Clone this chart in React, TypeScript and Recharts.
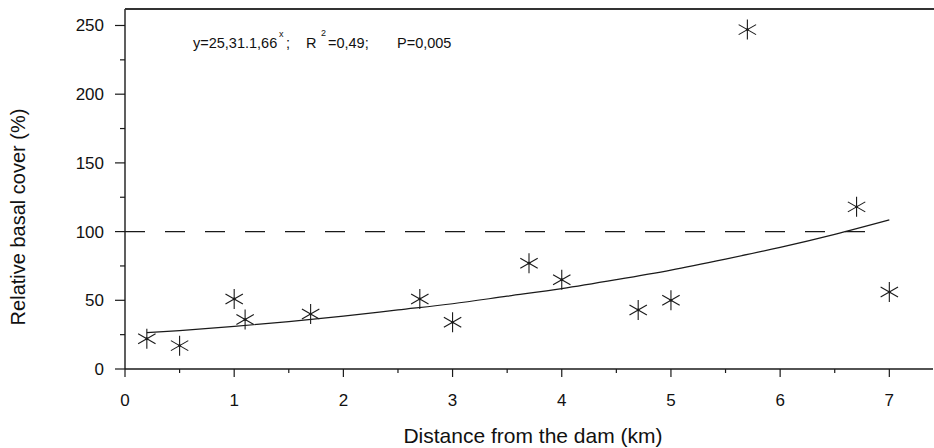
import React from "react";
import {
  ComposedChart,
  Scatter,
  Line,
  XAxis,
  YAxis,
  ReferenceLine,
  Customized,
} from "recharts";

// Observed points (distance km, relative basal cover %)
const distances = [0.2, 0.5, 1.0, 1.1, 1.7, 2.7, 3.0, 3.7, 4.0, 4.7, 5.0, 5.7, 6.7, 7.0];
const coverValues = [22, 17, 51, 36, 40, 51, 34, 77, 65, 43, 50, 247, 118, 56];

// Fitted curve
const curveX = [0.2, 0.5, 1, 1.5, 2, 2.5, 3, 3.5, 4, 4.5, 5, 5.5, 6, 6.5, 7];
const curveY = [26.5, 28, 31, 34.5, 38.5, 43, 47.5, 53, 58.5, 65, 72, 80, 88.5, 98, 108.5];

// Reference (control) level
const referenceLevel = 100;
const referenceEnd = 6.9;

const xTicks = [0, 0.5, 1, 1.5, 2, 2.5, 3, 3.5, 4, 4.5, 5, 5.5, 6, 6.5, 7];
const yTicks = [0, 25, 50, 75, 100, 125, 150, 175, 200, 225, 250];
const xMax = 7.4;
const yMax = 262;

const pointData = distances.map((x, i) => ({ x, y: coverValues[i] }));
const curveData = curveX.map((x, i) => ({ x, y: curveY[i] }));

const FONT = "'Liberation Sans', Arial, Helvetica, sans-serif";
const INK = "#1a1a1a";

const PLOT_LEFT = 125;
const PLOT_TOP = 9;
const CHART_W = 934;

const Star = (props: any) => {
  const { cx, cy } = props;
  if (cx == null || cy == null) return null;
  const r = 10;
  const dx = 8.7;
  const dy = 5;
  return (
    <g stroke={INK} strokeWidth={1.1} fill="none">
      <line x1={cx} y1={cy - r} x2={cx} y2={cy + r} />
      <line x1={cx - dx} y1={cy - dy} x2={cx + dx} y2={cy + dy} />
      <line x1={cx - dx} y1={cy + dy} x2={cx + dx} y2={cy - dy} />
      <circle cx={cx} cy={cy} r={1.4} fill={INK} stroke="none" />
    </g>
  );
};

const YTick = (props: any) => {
  const { x, y, payload } = props;
  const v = payload.value;
  const major = v % 50 === 0;
  return (
    <g>
      <line x1={x - (major ? 10 : 5)} y1={y} x2={x} y2={y} stroke={INK} strokeWidth={1.2} />
      {major && (
        <text
          x={x - 21}
          y={y + 6}
          textAnchor="end"
          fontFamily={FONT}
          fontSize={17}
          fill="#111"
        >
          {v}
        </text>
      )}
    </g>
  );
};

const XTick = (props: any) => {
  const { x, y, payload } = props;
  const v = payload.value;
  const major = Number.isInteger(v);
  return (
    <g>
      <line x1={x} y1={y} x2={x} y2={y + (major ? 8 : 4)} stroke={INK} strokeWidth={1.2} />
      {major && (
        <text x={x} y={y + 37} textAnchor="middle" fontFamily={FONT} fontSize={17} fill="#111">
          {v}
        </text>
      )}
    </g>
  );
};

const Annotations = () => (
  <g fontFamily={FONT} fill="#111">
    <text x={193} y={48} fontSize={14.5}>y=25,31.1,66</text>
    <text x={279} y={37} fontSize={9}>x</text>
    <text x={286} y={48} fontSize={14.5}>;</text>
    <text x={306} y={48} fontSize={14.5}>R</text>
    <text x={321} y={36} fontSize={9}>2</text>
    <text x={328} y={48} fontSize={14.5}>=0,49;</text>
    <text x={397} y={48} fontSize={14.5}>P=0,005</text>
    <text
      x={0}
      y={0}
      transform="translate(25,217) rotate(-90)"
      textAnchor="middle"
      fontSize={20}
    >
      Relative basal cover (%)
    </text>
    <text x={533} y={443} textAnchor="middle" fontSize={21}>
      Distance from the dam (km)
    </text>
  </g>
);

export default function App() {
  return (
    <div style={{ position: "absolute", left: 0, top: 0, width: 934, height: 448, background: "#fff" }}>
      <div
        style={{
          position: "absolute",
          left: PLOT_LEFT,
          top: PLOT_TOP - 1,
          width: CHART_W - PLOT_LEFT,
          height: 0,
          borderTop: "2px solid #333",
          zIndex: 2,
        }}
      />
      <ComposedChart
        width={CHART_W}
        height={448}
        margin={{ top: PLOT_TOP, right: 1, bottom: 0, left: 0 }}
      >
        <XAxis
          dataKey="x"
          type="number"
          domain={[0, xMax]}
          ticks={xTicks}
          tick={<XTick />}
          tickLine={false}
          tickSize={0}
          tickMargin={0}
          height={79}
          axisLine={{ stroke: INK, strokeWidth: 1.4 }}
          interval={0}
          allowDataOverflow
        />
        <YAxis
          dataKey="y"
          type="number"
          domain={[0, yMax]}
          ticks={yTicks}
          tick={<YTick />}
          tickLine={false}
          tickSize={0}
          tickMargin={0}
          width={PLOT_LEFT}
          axisLine={{ stroke: INK, strokeWidth: 1.4 }}
          interval={0}
          allowDataOverflow
        />
        <ReferenceLine
          y={yMax}
          stroke={INK}
          strokeWidth={1.6}
          ifOverflow="visible"
        />
        <ReferenceLine
          segment={[
            { x: 0, y: referenceLevel },
            { x: referenceEnd, y: referenceLevel },
          ]}
          stroke={INK}
          strokeWidth={1.2}
          strokeDasharray="20 20"
        />
        <Line
          data={curveData}
          dataKey="y"
          type="monotone"
          stroke={INK}
          strokeWidth={1.2}
          dot={false}
          activeDot={false}
          isAnimationActive={false}
        />
        <Scatter data={pointData} dataKey="y" shape={<Star />} isAnimationActive={false} />
        <Customized component={Annotations} />
      </ComposedChart>
    </div>
  );
}
